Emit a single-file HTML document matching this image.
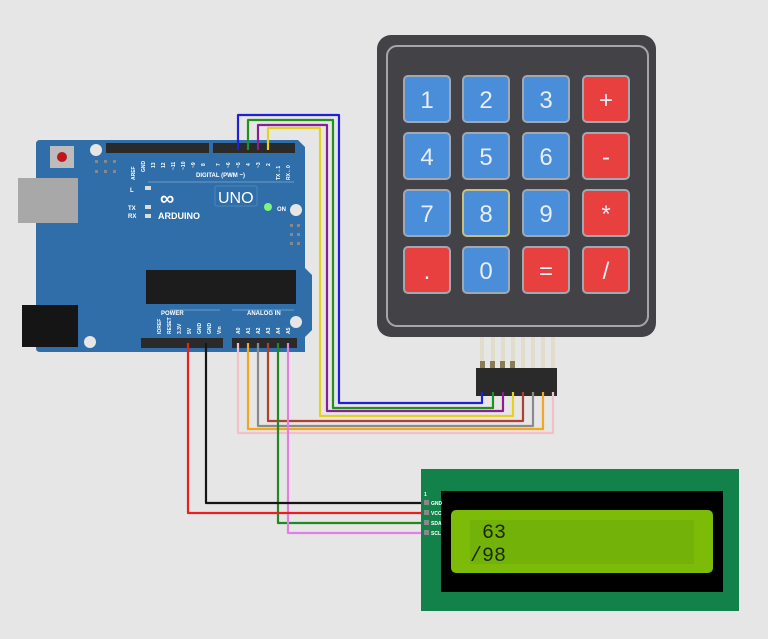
<!DOCTYPE html>
<html><head><meta charset="utf-8"><style>
html,body{margin:0;padding:0;background:#e6e6e6;}
svg{display:block}
</style></head><body>
<svg width="768" height="639" viewBox="0 0 768 639" xmlns="http://www.w3.org/2000/svg" font-family="Liberation Sans, sans-serif">
<rect width="768" height="639" fill="#e6e6e6"/>
<!-- Arduino board -->
<path d="M40 140 H298 L305 147 V268 L312 275 V330 L305 337 V352 H40 Q36 352 36 348 V144 Q36 140 40 140Z" fill="#2f6ea8"/>
<rect x="18" y="178" width="60" height="45" fill="#a8a8a8"/>
<rect x="22" y="305" width="56" height="42" fill="#151515"/>
<rect x="50" y="146" width="24" height="22" fill="#bcbcbc"/>
<circle cx="62" cy="157" r="5" fill="#c0151a"/>
<circle cx="96" cy="150" r="6" fill="#e6e6e6"/>
<circle cx="296" cy="210" r="6" fill="#e6e6e6"/>
<circle cx="296" cy="322" r="6" fill="#e6e6e6"/>
<circle cx="90" cy="342" r="6" fill="#e6e6e6"/>
<g fill="#888"><rect x="95" y="160" width="3" height="3"/><rect x="104" y="160" width="3" height="3"/><rect x="113" y="160" width="3" height="3"/><rect x="95" y="170" width="3" height="3"/><rect x="104" y="170" width="3" height="3"/><rect x="113" y="170" width="3" height="3"/>
<rect x="290" y="224" width="3" height="3"/><rect x="297" y="224" width="3" height="3"/><rect x="290" y="233" width="3" height="3"/><rect x="297" y="233" width="3" height="3"/><rect x="290" y="242" width="3" height="3"/><rect x="297" y="242" width="3" height="3"/></g>
<rect x="106" y="143" width="103" height="10" fill="#2a2a2a"/>
<rect x="213" y="143" width="82" height="10" fill="#2a2a2a"/>
<rect x="141" y="338" width="82" height="10" fill="#2a2a2a"/>
<rect x="232" y="338" width="65" height="10" fill="#2a2a2a"/>
<rect x="146" y="270" width="150" height="34" fill="#1c1c1c"/>
<g font-size="6" fill="#fff" font-weight="bold">
<text x="196" y="177">DIGITAL (PWM ~)</text>
<text x="128" y="210">TX</text><text x="128" y="218">RX</text><text x="130" y="192">L</text>
<text x="161" y="315">POWER</text><text x="247" y="315">ANALOG IN</text>
<text x="277" y="211">ON</text>
</g>
<g font-size="5" fill="#fff" font-weight="bold">
<text transform="translate(135,180) rotate(-90)">AREF</text>
<text transform="translate(145,172) rotate(-90)">GND</text>
<text transform="translate(155,168) rotate(-90)">13</text>
<text transform="translate(165,168) rotate(-90)">12</text>
<text transform="translate(175,170) rotate(-90)">~11</text>
<text transform="translate(185,170) rotate(-90)">~10</text>
<text transform="translate(195,168) rotate(-90)">~9</text>
<text transform="translate(205,166) rotate(-90)">8</text>
<text transform="translate(220,166) rotate(-90)">7</text>
<text transform="translate(230,168) rotate(-90)">~6</text>
<text transform="translate(240,168) rotate(-90)">~5</text>
<text transform="translate(250,166) rotate(-90)">4</text>
<text transform="translate(260,168) rotate(-90)">~3</text>
<text transform="translate(270,166) rotate(-90)">2</text>
<text transform="translate(280,180) rotate(-90)">TX→1</text>
<text transform="translate(290,180) rotate(-90)">RX←0</text>
<text transform="translate(161,334) rotate(-90)">IOREF</text>
<text transform="translate(171,334) rotate(-90)">RESET</text>
<text transform="translate(181,334) rotate(-90)">3.3V</text>
<text transform="translate(191,334) rotate(-90)">5V</text>
<text transform="translate(201,334) rotate(-90)">GND</text>
<text transform="translate(211,334) rotate(-90)">GND</text>
<text transform="translate(221,334) rotate(-90)">Vin</text>
<text transform="translate(240,334) rotate(-90)">A0</text>
<text transform="translate(250,334) rotate(-90)">A1</text>
<text transform="translate(260,334) rotate(-90)">A2</text>
<text transform="translate(270,334) rotate(-90)">A3</text>
<text transform="translate(280,334) rotate(-90)">A4</text>
<text transform="translate(290,334) rotate(-90)">A5</text>
</g>
<g stroke="#6d9cc8" stroke-width="1"><line x1="148" y1="182" x2="294" y2="182"/><line x1="170" y1="310" x2="220" y2="310"/><line x1="232" y1="310" x2="294" y2="310"/></g>
<text x="158" y="219" font-size="9" fill="#fff" font-weight="bold">ARDUINO</text>
<text x="160" y="205" font-size="20" fill="#fff" font-weight="bold">∞</text>
<rect x="215" y="186" width="42" height="20" rx="2" fill="none" stroke="#4a86b8"/>
<text x="218" y="203" font-size="16" fill="#fff">UNO</text>
<circle cx="268" cy="207" r="4" fill="#7cf57c"/>
<g fill="#ddd"><rect x="145" y="186" width="6" height="4"/><rect x="145" y="205" width="6" height="4"/><rect x="145" y="214" width="6" height="4"/></g>
<!-- Keypad -->
<rect x="377" y="35" width="279" height="302" rx="14" fill="#434347"/>
<rect x="387" y="46" width="261" height="280" rx="10" fill="none" stroke="#a5a5aa" stroke-width="2"/>
<g font-size="24" fill="#e8eef5" text-anchor="middle">
<g stroke="#a0a8b4" stroke-width="2">
<rect x="404" y="76" width="46" height="46" rx="4" fill="#4a8dd8"/><rect x="463" y="76" width="46" height="46" rx="4" fill="#4a8dd8"/><rect x="523" y="76" width="46" height="46" rx="4" fill="#4a8dd8"/><rect x="583" y="76" width="46" height="46" rx="4" fill="#e83f3f"/>
<rect x="404" y="133" width="46" height="46" rx="4" fill="#4a8dd8"/><rect x="463" y="133" width="46" height="46" rx="4" fill="#4a8dd8"/><rect x="523" y="133" width="46" height="46" rx="4" fill="#4a8dd8"/><rect x="583" y="133" width="46" height="46" rx="4" fill="#e83f3f"/>
<rect x="404" y="190" width="46" height="46" rx="4" fill="#4a8dd8"/><rect x="463" y="190" width="46" height="46" rx="4" fill="#4a8dd8" stroke="#c9c080"/><rect x="523" y="190" width="46" height="46" rx="4" fill="#4a8dd8"/><rect x="583" y="190" width="46" height="46" rx="4" fill="#e83f3f"/>
<rect x="404" y="247" width="46" height="46" rx="4" fill="#e83f3f"/><rect x="463" y="247" width="46" height="46" rx="4" fill="#4a8dd8"/><rect x="523" y="247" width="46" height="46" rx="4" fill="#e83f3f"/><rect x="583" y="247" width="46" height="46" rx="4" fill="#e83f3f"/>
</g>
<text x="427" y="108">1</text><text x="486" y="108">2</text><text x="546" y="108">3</text><text x="606" y="108">+</text>
<text x="427" y="165">4</text><text x="486" y="165">5</text><text x="546" y="165">6</text><text x="606" y="165">-</text>
<text x="427" y="222">7</text><text x="486" y="222">8</text><text x="546" y="222">9</text><text x="606" y="222">*</text>
<text x="427" y="279">.</text><text x="486" y="279">0</text><text x="546" y="279">=</text><text x="606" y="279">/</text>
</g>
<!-- ribbon -->
<g stroke="#e2dccb" stroke-width="4"><line x1="482" y1="337" x2="482" y2="368"/><line x1="493" y1="337" x2="493" y2="368"/><line x1="503" y1="337" x2="503" y2="368"/><line x1="513" y1="337" x2="513" y2="368"/><line x1="523" y1="337" x2="523" y2="368"/><line x1="533" y1="337" x2="533" y2="368"/><line x1="543" y1="337" x2="543" y2="368"/><line x1="553" y1="337" x2="553" y2="368"/></g>
<g fill="#8a7c55"><rect x="480" y="361" width="5" height="7"/><rect x="490" y="361" width="5" height="7"/><rect x="500" y="361" width="5" height="7"/><rect x="510" y="361" width="5" height="7"/></g>
<rect x="476" y="368" width="81" height="28" fill="#2a2a2a"/>
<!-- wires -->
<g fill="none" stroke-width="2.2" stroke-linejoin="round">
<path d="M238 150 V115 H339 V403 H482 V392" stroke="#2020d8"/>
<path d="M248 150 V120 H333 V408 H493 V392" stroke="#209020"/>
<path d="M258 150 V125 H327 V411 H503 V392" stroke="#8a2090"/>
<path d="M268 150 V128 H320 V416 H513 V392" stroke="#e8d020"/>
<path d="M238 343 V433 H553 V392" stroke="#f4c0c8"/>
<path d="M248 343 V429 H543 V392" stroke="#f0a820"/>
<path d="M258 343 V426 H533 V392" stroke="#8a8a8a"/>
<path d="M268 343 V421 H523 V392" stroke="#b04030"/>
<path d="M278 343 V523 H428" stroke="#208a20"/>
<path d="M288 343 V533 H428" stroke="#e080e0"/>
<path d="M188 343 V513 H428" stroke="#e82020"/>
<path d="M206 343 V503 H428" stroke="#151515"/>
</g>
<!-- LCD -->
<rect x="421" y="469" width="318" height="142" fill="#12824a"/>
<rect x="441" y="491" width="282" height="101" fill="#000"/>
<rect x="451" y="510" width="262" height="63" rx="5" fill="#7cbc08"/>
<rect x="470" y="520" width="224" height="44" fill="#73b208"/>
<g fill="#888"><rect x="424" y="500" width="5" height="5"/><rect x="424" y="510" width="5" height="5"/><rect x="424" y="520" width="5" height="5"/><rect x="424" y="530" width="5" height="5"/></g>
<g font-size="5" fill="#fff" font-weight="bold"><text x="424" y="496">1</text><text x="431" y="505">GND</text><text x="431" y="515">VCC</text><text x="431" y="525">SDA</text><text x="431" y="535">SCL</text></g>
<g font-family="Liberation Mono, monospace" font-size="20" fill="#1a2a00"><text x="482" y="538">63</text><text x="470" y="561">/98</text></g>
</svg>
</body></html>
